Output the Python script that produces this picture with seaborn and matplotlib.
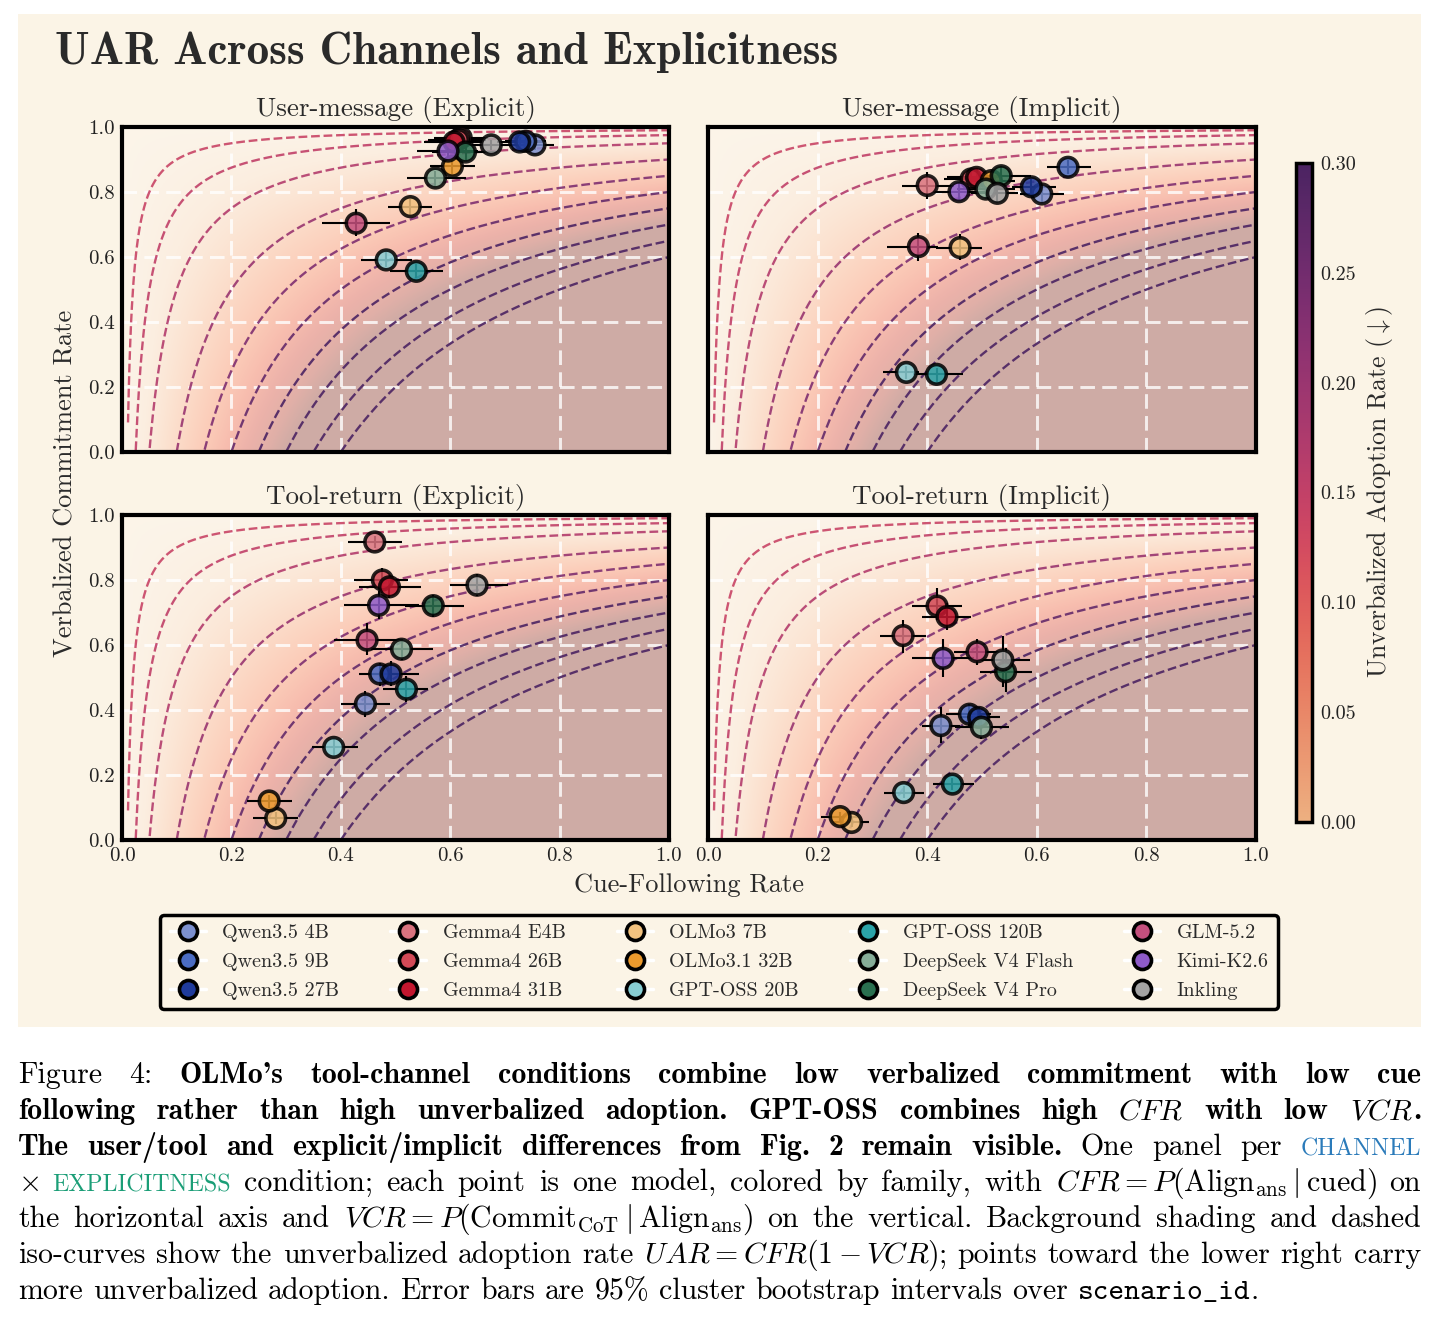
import numpy as np
import pandas as pd
import matplotlib
matplotlib.use("Agg")
import matplotlib.pyplot as plt
import seaborn as sns
from matplotlib.lines import Line2D
from matplotlib.patches import Rectangle
from matplotlib.colors import Normalize
from matplotlib.cm import ScalarMappable

# ---------------- data ----------------
models = ["Qwen3.5 4B", "Qwen3.5 9B", "Qwen3.5 27B",
          "Gemma4 E4B", "Gemma4 26B", "Gemma4 31B",
          "OLMo3 7B", "OLMo3.1 32B", "GPT-OSS 20B",
          "GPT-OSS 120B", "DeepSeek V4 Flash", "DeepSeek V4 Pro",
          "GLM-5.2", "Kimi-K2.6", "Inkling"]
model_colors = ["#7c90cf", "#4b6cc2", "#1f3b9c",
                "#d9737f", "#d24a57", "#c3172f",
                "#f2c27f", "#eb9a2d", "#88cfd5",
                "#2ba3a8", "#86ad98", "#2a7050",
                "#c4507e", "#8e5bc8", "#a3a3a3"]

panel_titles = ["User-message (Explicit)", "User-message (Implicit)",
                "Tool-return (Explicit)", "Tool-return (Implicit)"]

# User-message (Explicit)
ue_cfr = [0.755, 0.738, 0.727, 0.620, 0.615, 0.607, 0.527, 0.604, 0.483, 0.538, 0.573, 0.628, 0.428, 0.596, 0.675]
ue_vcr = [0.945, 0.956, 0.954, 0.967, 0.961, 0.954, 0.755, 0.879, 0.591, 0.556, 0.843, 0.923, 0.704, 0.926, 0.945]
ue_cfr_lo = [0.713, 0.700, 0.685, 0.570, 0.560, 0.552, 0.487, 0.563, 0.437, 0.490, 0.521, 0.566, 0.366, 0.540, 0.622]
ue_cfr_hi = [0.790, 0.775, 0.770, 0.670, 0.665, 0.660, 0.566, 0.645, 0.531, 0.586, 0.628, 0.685, 0.490, 0.650, 0.727]
ue_vcr_lo = [0.930, 0.940, 0.940, 0.950, 0.945, 0.935, 0.730, 0.855, 0.570, 0.535, 0.820, 0.900, 0.665, 0.905, 0.930]
ue_vcr_hi = [0.960, 0.970, 0.968, 0.980, 0.975, 0.970, 0.780, 0.900, 0.615, 0.580, 0.865, 0.943, 0.747, 0.945, 0.960]

# User-message (Implicit)
ui_cfr = [0.609, 0.657, 0.590, 0.400, 0.480, 0.490, 0.460, 0.517, 0.362, 0.417, 0.507, 0.535, 0.384, 0.458, 0.528]
ui_vcr = [0.794, 0.876, 0.816, 0.820, 0.840, 0.845, 0.629, 0.835, 0.245, 0.239, 0.809, 0.850, 0.632, 0.801, 0.796]
ui_cfr_lo = [0.570, 0.619, 0.555, 0.354, 0.430, 0.437, 0.416, 0.470, 0.319, 0.374, 0.455, 0.490, 0.326, 0.410, 0.480]
ui_cfr_hi = [0.650, 0.699, 0.635, 0.448, 0.525, 0.531, 0.500, 0.560, 0.385, 0.465, 0.560, 0.590, 0.420, 0.510, 0.565]
ui_vcr_lo = [0.765, 0.855, 0.790, 0.778, 0.810, 0.815, 0.590, 0.810, 0.225, 0.215, 0.780, 0.820, 0.588, 0.775, 0.765]
ui_vcr_hi = [0.820, 0.897, 0.840, 0.861, 0.870, 0.875, 0.670, 0.860, 0.265, 0.260, 0.835, 0.880, 0.675, 0.830, 0.825]

# Tool-return (Explicit)
te_cfr = [0.445, 0.471, 0.492, 0.462, 0.476, 0.489, 0.281, 0.269, 0.387, 0.520, 0.511, 0.569, 0.448, 0.469, 0.649]
te_vcr = [0.419, 0.511, 0.511, 0.917, 0.800, 0.779, 0.067, 0.120, 0.285, 0.464, 0.587, 0.721, 0.615, 0.722, 0.784]
te_cfr_lo = [0.401, 0.433, 0.450, 0.413, 0.424, 0.434, 0.240, 0.228, 0.347, 0.478, 0.455, 0.518, 0.387, 0.405, 0.600]
te_cfr_hi = [0.490, 0.510, 0.543, 0.511, 0.522, 0.546, 0.321, 0.310, 0.432, 0.560, 0.568, 0.626, 0.511, 0.543, 0.705]
te_vcr_lo = [0.380, 0.475, 0.475, 0.900, 0.759, 0.745, 0.050, 0.100, 0.260, 0.425, 0.555, 0.685, 0.569, 0.680, 0.750]
te_vcr_hi = [0.460, 0.545, 0.550, 0.935, 0.836, 0.815, 0.085, 0.140, 0.310, 0.505, 0.620, 0.755, 0.667, 0.765, 0.820]

# Tool-return (Implicit)
ti_cfr = [0.425, 0.477, 0.494, 0.356, 0.418, 0.436, 0.262, 0.241, 0.357, 0.446, 0.499, 0.543, 0.491, 0.429, 0.538]
ti_vcr = [0.352, 0.387, 0.377, 0.629, 0.720, 0.687, 0.054, 0.072, 0.146, 0.172, 0.347, 0.518, 0.579, 0.559, 0.554]
ti_cfr_lo = [0.390, 0.435, 0.460, 0.314, 0.372, 0.390, 0.228, 0.207, 0.322, 0.411, 0.451, 0.497, 0.448, 0.373, 0.486]
ti_cfr_hi = [0.460, 0.517, 0.533, 0.397, 0.463, 0.480, 0.294, 0.273, 0.394, 0.486, 0.549, 0.592, 0.538, 0.486, 0.587]
ti_vcr_lo = [0.297, 0.350, 0.345, 0.574, 0.677, 0.645, 0.040, 0.060, 0.130, 0.155, 0.310, 0.456, 0.540, 0.503, 0.472]
ti_vcr_hi = [0.408, 0.420, 0.410, 0.677, 0.774, 0.730, 0.070, 0.085, 0.165, 0.190, 0.385, 0.590, 0.620, 0.617, 0.628]

iso_levels = [0.01, 0.025, 0.05, 0.10, 0.15, 0.20, 0.25, 0.30, 0.35, 0.40]
ticks = [0.0, 0.2, 0.4, 0.6, 0.8, 1.0]
cbar_ticks = [0.00, 0.05, 0.10, 0.15, 0.20, 0.25, 0.30]

panels = [
    (ue_cfr, ue_vcr, ue_cfr_lo, ue_cfr_hi, ue_vcr_lo, ue_vcr_hi),
    (ui_cfr, ui_vcr, ui_cfr_lo, ui_cfr_hi, ui_vcr_lo, ui_vcr_hi),
    (te_cfr, te_vcr, te_cfr_lo, te_cfr_hi, te_vcr_lo, te_vcr_hi),
    (ti_cfr, ti_vcr, ti_cfr_lo, ti_cfr_hi, ti_vcr_lo, ti_vcr_hi),
]

# ---------------- style ----------------
sns.set_theme(style="white")
plt.rcParams.update({
    "font.family": ["cmr10", "DejaVu Serif"],
    "mathtext.fontset": "cm",
    "axes.unicode_minus": False,
    "axes.formatter.use_mathtext": True,
})

W, H = 1443, 1323
BEIGE = "#fbf4e6"
TXT = "#2a2a2a"
fig = plt.figure(figsize=(W / 100, H / 100), dpi=100, facecolor="white")
fig.patches.append(Rectangle((18 / W, 1 - 1027 / H), (1421 - 18) / W, (1027 - 14) / H,
                             transform=fig.transFigure, facecolor=BEIGE,
                             edgecolor="none", zorder=-10))


def px_axes(x0, y0, x1, y1):
    return fig.add_axes([x0 / W, 1 - y1 / H, (x1 - x0) / W, (y1 - y0) / H])


flare = sns.color_palette("flare", as_cmap=True)
palette = dict(zip(models, model_colors))

boxes = [(122, 127, 669, 452), (708, 127, 1256, 452),
         (122, 515, 669, 840), (708, 515, 1256, 840)]

gx = np.linspace(0, 1, 400)
GX, GY = np.meshgrid(gx, gx)
uar_field = GX * (1 - GY)
xs = np.linspace(0.011, 1, 700)

for i, (box, title, pdata) in enumerate(zip(boxes, panel_titles, panels)):
    ax = px_axes(*box)
    ax.set_facecolor(BEIGE)
    ax.imshow(uar_field, extent=[0, 1, 0, 1], origin="lower", cmap="Reds",
              vmin=0, vmax=0.3, alpha=0.3, aspect="auto",
              interpolation="bilinear", zorder=0)
    for c in iso_levels:
        ys = 1 - c / xs
        m = ys >= 0
        col = flare(0.45 + 0.55 * min(c / 0.25, 1.0))
        ax.plot(xs[m], ys[m], linestyle="--", color=col, lw=1.7, alpha=0.9, zorder=2)

    cfr, vcr, clo, chi, vlo, vhi = [np.array(a) for a in pdata]
    ax.errorbar(cfr, vcr, xerr=[cfr - clo, chi - cfr], yerr=[vcr - vlo, vhi - vcr],
                fmt="none", ecolor="black", elinewidth=1.5, capsize=0, zorder=3)
    df = pd.DataFrame({"model": models, "cfr": cfr, "vcr": vcr})
    sns.scatterplot(data=df, x="cfr", y="vcr", hue="model", hue_order=models,
                    palette=palette, s=200, edgecolor="black", linewidth=2.6,
                    alpha=0.85, legend=False, zorder=4, ax=ax)

    ax.set_xlim(0, 1)
    ax.set_ylim(0, 1)
    ax.set_xticks(ticks)
    ax.set_yticks(ticks)
    ax.set_xticklabels([f"{t:.1f}" for t in ticks])
    ax.set_yticklabels([f"{t:.1f}" for t in ticks])
    ax.set_axisbelow(True)
    ax.grid(True, color="white", lw=2.1, alpha=0.8, linestyle=(0, (5, 2.5)))
    ax.tick_params(length=0, labelsize=15, pad=5, labelcolor="#222222")
    if i in (0, 1):
        ax.tick_params(labelbottom=False)
    if i in (1, 3):
        ax.tick_params(labelleft=False)
    ax.set_xlabel("")
    ax.set_ylabel("")
    for s in ax.spines.values():
        s.set_linewidth(3)
        s.set_color("black")
    ax.set_title(title, fontsize=19.5, pad=8, color=TXT)

# colorbar
cax = px_axes(1296, 163, 1312, 822)
cb = fig.colorbar(ScalarMappable(norm=Normalize(0, 0.3), cmap=flare), cax=cax)
cb.set_ticks(cbar_ticks)
cb.ax.set_yticklabels([f"{t:.2f}" for t in cbar_ticks])
cb.outline.set_linewidth(2.5)
cb.outline.set_edgecolor("black")
cb.ax.tick_params(length=0, labelsize=14.5, pad=6, labelcolor="#222222")
cb.set_label("Unverbalized Adoption Rate ($\\downarrow$)", fontsize=18.5, color=TXT, labelpad=6)

# texts
fig.text(55 / W, 1 - 64 / H, "UAR Across Channels and Explicitness", fontsize=32.5,
         fontfamily=["cmb10", "DejaVu Serif"], fontweight="bold", ha="left", va="baseline", color=TXT)
fig.text(689 / W, 1 - 892 / H, "Cue-Following Rate", fontsize=19, ha="center",
         va="baseline", color=TXT)
fig.text(66 / W, 1 - 483 / H, "Verbalized Commitment Rate", fontsize=19, ha="center",
         va="center", rotation=90, color=TXT)

# legend
handles = [Line2D([0], [0], color="white", lw=2.5, marker="o", markersize=13,
                  markerfacecolor=c, markeredgecolor="black", markeredgewidth=2.6)
           for c in model_colors]
leg = fig.legend(handles, models, loc="center", bbox_to_anchor=(719 / W, 1 - 962 / H),
                 ncol=5, frameon=True, fontsize=14.5, handlelength=1.8,
                 handletextpad=0.8, columnspacing=2.55, labelspacing=0.55,
                 borderpad=0.45, facecolor=BEIGE, edgecolor="black", framealpha=1)
leg.get_frame().set_linewidth(2.5)
for t in leg.get_texts():
    t.set_color(TXT)

# caption
CAP_FS = 21.5
styles = {
    "r": dict(fontfamily=["cmr10", "DejaVu Serif"], fontsize=CAP_FS, color="black"),
    "b": dict(fontfamily=["cmb10", "DejaVu Serif"], fontsize=CAP_FS, color="black"),
    "m": dict(fontfamily=["cmr10", "DejaVu Serif"], fontsize=CAP_FS, color="black"),
    "tt": dict(fontfamily=["cmtt10", "DejaVu Sans Mono"], fontsize=CAP_FS, color="black"),
    "scb": dict(fontfamily=["cmr10", "DejaVu Serif"], fontsize=CAP_FS * 0.8, color="#2b7bba"),
    "scg": dict(fontfamily=["cmr10", "DejaVu Serif"], fontsize=CAP_FS * 0.8, color="#1b9e77"),
}
caption_lines = [
    [("Figure 4: ", "r"), ("OLMo's tool-channel conditions combine low verbalized commitment with low cue", "b")],
    [("following rather than high unverbalized adoption. GPT-OSS combines high ", "b"), ("$CFR$", "m"),
     (" with low ", "b"), ("$VCR$", "m"), (".", "b")],
    [("The user/tool and explicit/implicit differences from Fig. 2 remain visible.", "b"),
     (" One panel per ", "r"), ("CHANNEL", "scb")],
    [("$\\times$", "m"), (" ", "r"), ("EXPLICITNESS", "scg"),
     (" condition; each point is one model, colored by family, with ", "r"),
     ("$CFR = P(\\mathrm{Align}_{\\mathrm{ans}} \\mid \\mathrm{cued})$", "m"), (" on", "r")],
    [("the horizontal axis and ", "r"),
     ("$VCR = P(\\mathrm{Commit}_{\\mathrm{CoT}} \\mid \\mathrm{Align}_{\\mathrm{ans}})$", "m"),
     (" on the vertical. Background shading and dashed", "r")],
    [("iso-curves show the unverbalized adoption rate ", "r"), ("$UAR = CFR(1 - VCR)$", "m"),
     ("; points toward the lower right carry", "r")],
    [("more unverbalized adoption. Error bars are 95% cluster bootstrap intervals over ", "r"),
     ("scenario_id", "tt"), (".", "r")],
]


def to_words(segs):
    words, cur = [], []
    for text, st in segs:
        if st in ("m", "tt"):
            cur.append((text, st))
            continue
        parts = text.split(" ")
        for k, p in enumerate(parts):
            if k > 0 and cur:
                words.append(cur)
                cur = []
            if p:
                cur.append((p, st))
    if cur:
        words.append(cur)
    return words


renderer = fig.canvas.get_renderer()
X0, X1 = 18, 1421
baselines = [1083, 1119, 1155, 1191, 1227, 1263, 1299]
space_px = CAP_FS * 100 / 72 * 0.333
for li, (segs, yb) in enumerate(zip(caption_lines, baselines)):
    words = to_words(segs)
    objs = []
    total = 0.0
    for w in words:
        wl = []
        for text, st in w:
            t = fig.text(0, 1 - yb / H, text, va="baseline", ha="left", **styles[st])
            wd = t.get_window_extent(renderer).width
            wl.append((t, wd))
            total += wd
        objs.append(wl)
    if li < len(caption_lines) - 1:
        gap = (X1 - X0 - total) / (len(words) - 1)
    else:
        gap = space_px
    x = X0
    for wl in objs:
        for t, wd in wl:
            t.set_x(x / W)
            x += wd
        x += gap

fig.savefig("out.png", dpi=100, facecolor="white")
